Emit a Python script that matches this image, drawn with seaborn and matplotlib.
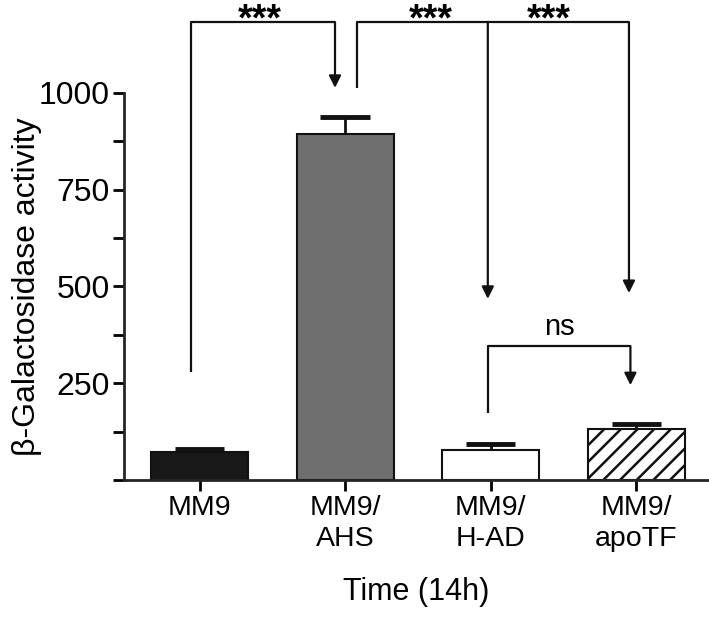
import numpy as np
import pandas as pd
import matplotlib
matplotlib.use('Agg')
import matplotlib.pyplot as plt
import seaborn as sns

# Data
groups = ['MM9', 'MM9/\nAHS', 'MM9/\nH-AD', 'MM9/\napoTF']
activity = [72, 894, 78, 132]
sem = [8, 44, 15, 13]
bar_colors = ['#181818', '#6f6f6f', '#ffffff', '#ffffff']
bar_hatches = ['', '', '', '//']

# Significance brackets: (left x, left leg bottom, right x, arrow tip, bracket y)
brackets = [
    (-0.06, 279, 0.93, 1013, 1183),
]
star_x = [0.41, 1.59, 2.40]
star_y = 1162
# second bracket with two arrow branches
b2_left, b2_left_bottom = 1.08, 1013
b2_mid, b2_mid_tip = 1.98, 468
b2_right, b2_right_tip = 2.95, 483
b2_y = 1183
# ns bracket
ns_left, ns_left_bottom = 1.98, 173
ns_right, ns_right_tip = 2.96, 245
ns_y = 346

sns.set_style('ticks')
plt.rcParams['font.family'] = ['Liberation Sans', 'DejaVu Sans']
plt.rcParams['text.color'] = 'black'
plt.rcParams['axes.labelcolor'] = 'black'
plt.rcParams['xtick.color'] = 'black'
plt.rcParams['ytick.color'] = 'black'
plt.rcParams['hatch.linewidth'] = 1.8
plt.rcParams['hatch.color'] = '#111111'

fig = plt.figure(figsize=(7.09, 6.22), dpi=100)
ax = fig.add_axes([124 / 709, 1 - 480 / 622, 585 / 709, 480 / 622])

df = pd.DataFrame({'group': groups, 'activity': activity})
sns.barplot(data=df, x='group', y='activity', hue='group', palette=bar_colors,
            width=0.667, edgecolor='#111111', linewidth=1.5, legend=False, ax=ax)
for patch, h in zip(ax.patches, bar_hatches):
    patch.set_hatch(h)

# error bars (upper half only, with a thick cap)
xs = np.arange(len(groups))
tops = np.array(activity) + np.array(sem)
ax.vlines(xs, activity, tops, color='#111111', lw=2, zorder=3)
ax.hlines(tops, xs - 0.17, xs + 0.17, color='#111111', lw=3.5, zorder=3)

ax.set_xlim(-0.52, 3.5)
ax.set_ylim(0, 1240)
ax.set_yticks([0, 250, 500, 750, 1000])
ax.set_yticklabels(['', '250', '500', '750', '1000'])
ax.set_yticks([125, 375, 625, 875], minor=True)
ax.tick_params(axis='y', which='both', length=8, width=2, labelsize=23, pad=2)
ax.tick_params(axis='x', length=8, width=2, labelsize=20.5, pad=3)
for lab in ax.get_xticklabels():
    lab.set_linespacing(1.25)

sns.despine(ax=ax)
ax.spines['left'].set_bounds(0, 1000)
ax.spines['left'].set_linewidth(2)
ax.spines['bottom'].set_linewidth(2)

ax.set_xlabel('Time (14h)', fontsize=22, labelpad=18)
ax.set_ylabel('β-Galactosidase activity', fontsize=23)
ax.yaxis.set_label_coords(-0.140, 500 / 1240)

lk = dict(color='#111111', lw=1.6, solid_capstyle='butt', clip_on=False)
ak = dict(arrowstyle='-|>', color='#111111', lw=1.6, mutation_scale=18,
          shrinkA=0, shrinkB=0)

# bracket 1
for lx, lb, rx, tip, by in brackets:
    ax.plot([lx, lx, rx], [lb, by, by], **lk)
    ax.annotate('', xy=(rx, tip), xytext=(rx, by), arrowprops=ak)

# bracket 2
ax.plot([b2_left, b2_left, b2_right], [b2_left_bottom, b2_y, b2_y], **lk)
ax.annotate('', xy=(b2_mid, b2_mid_tip), xytext=(b2_mid, b2_y), arrowprops=ak)
ax.annotate('', xy=(b2_right, b2_right_tip), xytext=(b2_right, b2_y), arrowprops=ak)

# ns bracket
ax.plot([ns_left, ns_left, ns_right], [ns_left_bottom, ns_y, ns_y], **lk)
ax.annotate('', xy=(ns_right, ns_right_tip), xytext=(ns_right, ns_y), arrowprops=ak)
ax.text((ns_left + ns_right) / 2, ns_y + 12, 'ns', ha='center', va='bottom', fontsize=21)

for sx in star_x:
    ax.text(sx, star_y, '***', ha='center', va='baseline', fontsize=27,
            fontweight='bold', clip_on=False)

fig.savefig('out.png', dpi=100)
